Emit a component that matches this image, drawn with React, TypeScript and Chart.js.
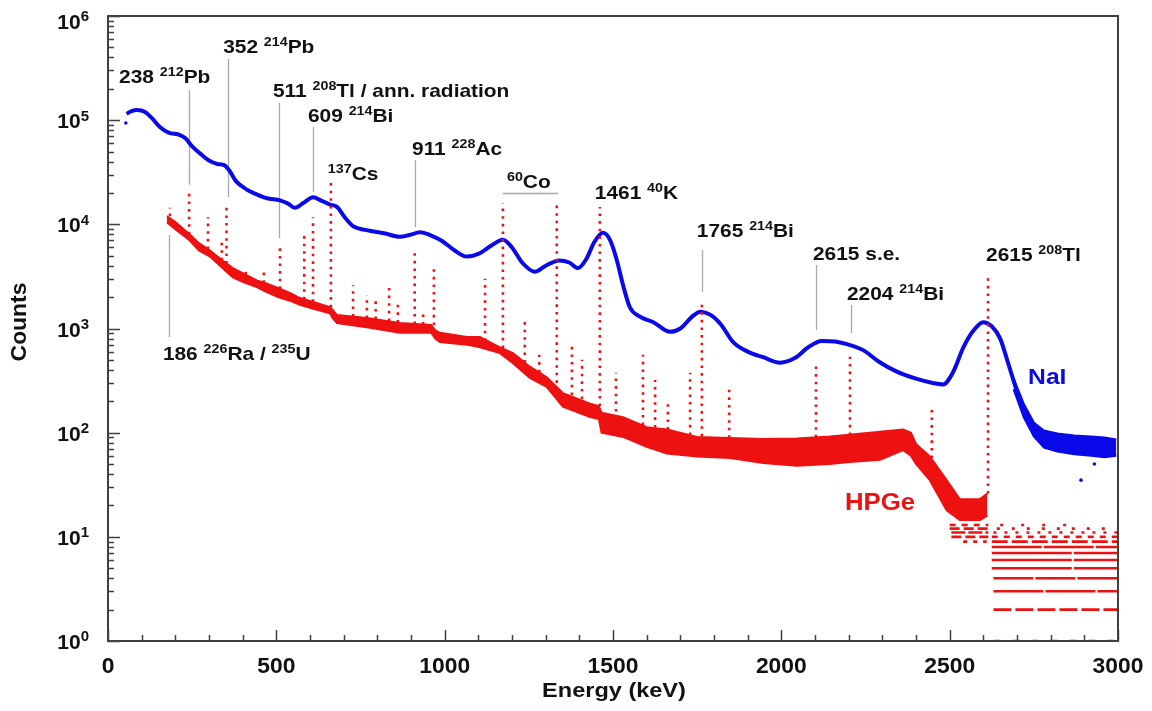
import React, { useEffect, useRef } from 'react';
import { Chart, registerables } from 'chart.js';

Chart.register(...registerables);

// ---------- axis ticks ----------
const xTickValues = [0, 500, 1000, 1500, 2000, 2500, 3000];
const xTickLabels = ['0', '500', '1000', '1500', '2000', '2500', '3000'];
const yTickExponents = [0, 1, 2, 3, 4, 5, 6];

// ---------- NaI spectrum ----------
const naiEnergy = [55, 70, 86, 110, 130, 154, 180, 214, 230, 250, 273, 300, 325, 345, 360, 380, 413, 440, 472, 511, 535, 555, 580, 609, 635, 659, 680, 705, 728, 768, 820, 867, 895, 927, 960, 990, 1030, 1066, 1100, 1140, 1173, 1200, 1230, 1268, 1300, 1340, 1370, 1396, 1420, 1445, 1470, 1490, 1510, 1530, 1550, 1580, 1620, 1669, 1700, 1735, 1760, 1790, 1820, 1857, 1900, 1946, 1996, 2040, 2080, 2120, 2160, 2200, 2243, 2290, 2340, 2400, 2450, 2480, 2510, 2540, 2570, 2600, 2625, 2650, 2675, 2700, 2730, 2760, 2800, 2850, 2900, 2950, 2990];
const naiCounts = [1.15e5, 1.22e5, 1.25e5, 1.2e5, 1.05e5, 8.6e4, 7.6e4, 7.2e4, 6.7e4, 5.6e4, 4.8e4, 4.1e4, 3.8e4, 3.7e4, 3.3e4, 2.6e4, 2.15e4, 1.95e4, 1.78e4, 1.7e4, 1.58e4, 1.44e4, 1.6e4, 1.82e4, 1.68e4, 1.55e4, 1.47e4, 1.15e4, 9.6e3, 8.8e3, 8.2e3, 7.6e3, 7.9e3, 8.4e3, 7.8e3, 7.0e3, 5.6e3, 4.9e3, 5.2e3, 6.3e3, 7.1e3, 6.0e3, 4.3e3, 3.5e3, 4.0e3, 4.5e3, 4.3e3, 3.8e3, 4.6e3, 6.8e3, 8.3e3, 7.2e3, 4.7e3, 2.6e3, 1.6e3, 1.3e3, 1.15e3, 930, 1000, 1300, 1450, 1350, 1100, 740, 600, 530, 470, 520, 660, 760, 750, 700, 620, 480, 390, 330, 300, 290, 380, 650, 950, 1150, 1050, 800, 450, 250, 140, 100, 84, 78, 74, 70, 68];
const naiTailEnergy = [2690, 2720, 2750, 2780, 2820, 2870, 2920, 2960, 2995];
const naiTailHigh = [330, 190, 125, 105, 98, 94, 92, 90, 86];
const naiTailLow = [260, 140, 92, 72, 66, 62, 60, 58, 60];
const naiStrayEnergy = [53, 2890, 2930];
const naiStrayCounts = [9.4e4, 35, 50];

// ---------- HPGe spectrum ----------
const hpgeEnergy = [175, 200, 243, 270, 303, 340, 371, 400, 442, 470, 505, 540, 570, 610, 659, 668, 680, 769, 867, 960, 972, 986, 1066, 1105, 1164, 1203, 1253, 1303, 1351, 1432, 1458, 1466, 1530, 1600, 1660, 1750, 1848, 1946, 2046, 2144, 2194, 2293, 2362, 2385, 2400, 2441, 2491, 2530, 2590, 2612];
const hpgeHigh = [1.2e4, 1.05e4, 8.0e3, 6.6e3, 5.6e3, 4.5e3, 3.8e3, 3.4e3, 2.9e3, 2.7e3, 2.45e3, 2.2e3, 1.96e3, 1.8e3, 1.6e3, 1.5e3, 1.35e3, 1.26e3, 1.13e3, 1.08e3, 960, 910, 830, 830, 660, 580, 430, 340, 240, 190, 180, 155, 141, 113, 107, 91, 89, 87, 88, 92, 95, 102, 107, 100, 78, 59, 35, 23, 23, 26];
const hpgeLow = [1.05e4, 9.0e3, 7.0e3, 5.6e3, 4.9e3, 3.8e3, 3.1e3, 2.8e3, 2.5e3, 2.25e3, 2.0e3, 1.85e3, 1.69e3, 1.55e3, 1.4e3, 1.25e3, 1.13e3, 1.03e3, 910, 910, 800, 740, 700, 660, 580, 465, 335, 275, 178, 141, 135, 100, 91, 73, 63, 59, 57, 51, 48, 50, 52, 55, 68, 60, 50, 35, 18, 14.5, 14.5, 16];

// HPGe full-energy peaks: energy, continuum under it, peak top
const peakEnergy = [184, 241, 297, 338, 352, 409, 463, 511, 583, 609, 662, 728, 769, 795, 835, 861, 911, 936, 968, 1120, 1173, 1238, 1281, 1333, 1378, 1408, 1461, 1509, 1589, 1625, 1663, 1729, 1764, 1845, 2103, 2204, 2447, 2614];
const peakBase = [1.2e4, 8.0e3, 5.8e3, 4.5e3, 4.2e3, 3.3e3, 2.75e3, 2.4e3, 1.9e3, 1.8e3, 1.6e3, 1.3e3, 1.26e3, 1.23e3, 1.18e3, 1.14e3, 1.1e3, 1.09e3, 1.08e3, 760, 650, 470, 380, 300, 230, 210, 180, 135, 118, 112, 107, 95, 92, 89, 90, 95, 57, 26];
const peakTop = [1.44e4, 2.0e4, 1.17e4, 6.8e3, 1.55e4, 3.8e3, 3.5e3, 5.9e3, 8.3e3, 1.17e4, 2.7e4, 2.6e3, 2.1e3, 1.9e3, 2.5e3, 1.8e3, 5.9e3, 1.5e3, 3.9e3, 3.0e3, 1.6e4, 1.26e3, 560, 1.55e4, 720, 500, 1.47e4, 375, 560, 320, 190, 375, 1.7e3, 270, 465, 535, 173, 3.4e3];

// low-count integer rows
const rowLevel = [1, 2, 3, 4, 5, 6, 7, 8, 9, 10, 11, 12, 13, 9, 10, 11, 12, 13];
const rowStart = [2630, 2630, 2630, 2630, 2625, 2625, 2625, 2625, 2625, 2625, 2630, 2640, 2650, 2540, 2505, 2505, 2500, 2500];
const rowEnd = [3000, 3000, 3000, 3000, 3000, 3000, 3000, 3000, 3000, 3000, 3000, 2980, 2900, 2610, 2615, 2615, 2615, 2615];

// ---------- styling (not data) ----------
const rowDash = [[7, 12], [18, 4], [50, 2], [40, 2], [80, 2], [80, 2], [80, 2], [50, 2], [16, 4], [6, 6], [3, 8], [3, 12], [3, 18], [4, 6], [10, 4], [14, 3], [10, 4], [6, 6]];

const FONT = '"Liberation Sans", Arial, Helvetica, sans-serif';
const RED = '#ee1111';
const BLUE = '#0a0ae8';

const labels = [
  { t: '238 ^212^Pb', e: 33, lg: 5.357 },
  { t: '352 ^214^Pb', e: 342, lg: 5.645 },
  { t: '511 ^208^Tl / ann. radiation', e: 490, lg: 5.222 },
  { t: '609 ^214^Bi', e: 594, lg: 4.982 },
  { t: '^137^Cs', e: 653, lg: 4.425 },
  { t: '911 ^228^Ac', e: 903, lg: 4.666 },
  { t: '^60^Co', e: 1185, lg: 4.349 },
  { t: '1461 ^40^K', e: 1446, lg: 4.243 },
  { t: '1765 ^214^Bi', e: 1749, lg: 3.878 },
  { t: '2615 s.e.', e: 2094, lg: 3.657 },
  { t: '2204 ^214^Bi', e: 2195, lg: 3.273 },
  { t: '2615 ^208^Tl', e: 2608, lg: 3.648 },
  { t: '186 ^226^Ra / ^235^U', e: 163, lg: 2.698 },
];
const leaders = [
  { e: 240, a: 5.29, b: 4.38 },
  { e: 356, a: 5.587, b: 4.262 },
  { e: 508, a: 5.165, b: 3.869 },
  { e: 609, a: 4.934, b: 4.31 },
  { e: 912, a: 4.617, b: 3.974 },
  { e: 1764, a: 3.753, b: 3.35 },
  { e: 2103, a: 3.61, b: 2.985 },
  { e: 2207, a: 3.226, b: 2.957 },
  { e: 181, a: 3.898, b: 2.918 },
];
const coBar = { e1: 1173, e2: 1337, lg: 4.30 };

function drawRich(ctx: CanvasRenderingContext2D, str: string, x: number, y: number, size: number, color: string, sx = 1, align = 'left', supScale = 0.68, raise = 0.38) {
  const parts = str.split('^');
  const base = `bold ${size}px ${FONT}`;
  const sup = `bold ${Math.round(size * supScale)}px ${FONT}`;
  let w = 0;
  parts.forEach((p, i) => { ctx.font = i % 2 ? sup : base; w += ctx.measureText(p).width; });
  ctx.save();
  ctx.translate(x, y);
  ctx.scale(sx, 1);
  let cx = align === 'right' ? -w : align === 'center' ? -w / 2 : 0;
  ctx.fillStyle = color;
  ctx.textAlign = 'left';
  ctx.textBaseline = 'alphabetic';
  parts.forEach((p, i) => {
    ctx.font = i % 2 ? sup : base;
    ctx.fillText(p, cx, i % 2 ? -size * raise : 0);
    cx += ctx.measureText(p).width;
  });
  ctx.restore();
}

const decorPlugin = {
  id: 'decor',
  beforeDatasetsDraw(chart: any) {
    const { ctx, scales } = chart;
    const x = scales.x, y = scales.y;
    ctx.save();
    ctx.strokeStyle = '#a8a8a8';
    ctx.lineWidth = 1.3;
    leaders.forEach(l => {
      const px = Math.round(x.getPixelForValue(l.e)) + 0.5;
      ctx.beginPath();
      ctx.moveTo(px, y.getPixelForValue(Math.pow(10, l.a)));
      ctx.lineTo(px, y.getPixelForValue(Math.pow(10, l.b)));
      ctx.stroke();
    });
    const cy = Math.round(y.getPixelForValue(Math.pow(10, coBar.lg))) + 0.5;
    ctx.beginPath();
    ctx.moveTo(x.getPixelForValue(coBar.e1), cy);
    ctx.lineTo(x.getPixelForValue(coBar.e2), cy);
    ctx.stroke();
    ctx.restore();
  },
  afterDraw(chart: any) {
    const { ctx, chartArea: a, scales } = chart;
    const x = scales.x, y = scales.y;
    ctx.save();
    // frame
    ctx.strokeStyle = '#404040';
    ctx.lineWidth = 2;
    ctx.strokeRect(a.left, a.top, a.right - a.left, a.bottom - a.top);
    // x ticks
    ctx.lineWidth = 1.5;
    ctx.beginPath();
    for (let v = 0; v <= 3000; v += 100) {
      const px = Math.round(x.getPixelForValue(v)) + 0.5;
      const len = v % 500 === 0 ? 11 : 6;
      ctx.moveTo(px, a.bottom);
      ctx.lineTo(px, a.bottom - len);
    }
    // y ticks
    yTickExponents.forEach(ex => {
      const py = Math.round(y.getPixelForValue(Math.pow(10, ex))) + 0.5;
      ctx.moveTo(a.left, py);
      ctx.lineTo(a.left + 12, py);
      if (ex < 6) {
        for (let m = 2; m <= 9; m++) {
          const pm = Math.round(y.getPixelForValue(m * Math.pow(10, ex))) + 0.5;
          ctx.moveTo(a.left, pm);
          ctx.lineTo(a.left + 6, pm);
        }
      }
    });
    ctx.stroke();
    // tick labels
    xTickValues.forEach((v, i) => {
      drawRich(ctx, xTickLabels[i], x.getPixelForValue(v), 673, 22, '#111', 1.04, 'center');
    });
    yTickExponents.forEach(ex => {
      const py = y.getPixelForValue(Math.pow(10, ex));
      drawRich(ctx, '10^' + ex + '^', 89, Math.max(py + 8, 29), 21, '#111', 1, 'right', 0.7, 0.36);
    });
    // axis titles
    drawRich(ctx, 'Energy (keV)', 614, 697, 21, '#111', 1.12, 'center');
    ctx.save();
    ctx.translate(26, 322);
    ctx.rotate(-Math.PI / 2);
    drawRich(ctx, 'Counts', 0, 0, 22, '#111', 1.04, 'center');
    ctx.restore();
    // peak labels
    labels.forEach(l => {
      drawRich(ctx, l.t, x.getPixelForValue(l.e), y.getPixelForValue(Math.pow(10, l.lg)), 19, '#111', 1.1, 'left', 0.7, 0.38);
    });
    drawRich(ctx, 'NaI', x.getPixelForValue(2733), y.getPixelForValue(Math.pow(10, 2.467)), 22, BLUE, 1.12);
    drawRich(ctx, 'HPGe', x.getPixelForValue(2189), y.getPixelForValue(Math.pow(10, 1.258)), 23, RED, 1.12);
    ctx.restore();
  },
};

const pts = (xs: number[], ys: number[]) => xs.map((v, i) => ({ x: v, y: ys[i] }));

export default function App() {
  const ref = useRef<HTMLCanvasElement | null>(null);
  useEffect(() => {
    if (!ref.current) return;
    const datasets: any[] = [];
    // HPGe continuum band
    datasets.push({ data: pts(hpgeEnergy, hpgeLow), showLine: true, borderColor: RED, borderWidth: 2, pointRadius: 0, fill: false, order: 1 });
    datasets.push({ data: pts(hpgeEnergy, hpgeHigh), showLine: true, borderColor: RED, borderWidth: 2, pointRadius: 0, fill: '-1', backgroundColor: RED, order: 1 });
    // NaI tail band
    datasets.push({ data: pts(naiTailEnergy, naiTailLow), showLine: true, borderColor: BLUE, borderWidth: 2, pointRadius: 0, fill: false, order: 2 });
    datasets.push({ data: pts(naiTailEnergy, naiTailHigh), showLine: true, borderColor: BLUE, borderWidth: 2, pointRadius: 0, fill: '-1', backgroundColor: BLUE, order: 2 });
    // NaI main curve
    datasets.push({ data: pts(naiEnergy, naiCounts), showLine: true, borderColor: BLUE, borderWidth: 4, pointRadius: 0, fill: false, cubicInterpolationMode: 'monotone', order: 2 });
    datasets.push({ data: pts(naiStrayEnergy, naiStrayCounts), showLine: false, pointRadius: 1.8, pointBackgroundColor: BLUE, pointBorderWidth: 0, order: 2 });
    // HPGe peaks
    peakEnergy.forEach((e, i) => {
      datasets.push({ data: [{ x: e, y: peakBase[i] }, { x: e, y: peakTop[i] }], showLine: true, borderColor: RED, borderWidth: 2.6, borderDash: [2.6, 5], pointRadius: 0, fill: false, order: 1 });
    });
    // HPGe integer rows
    rowLevel.forEach((lv, i) => {
      datasets.push({ data: [{ x: rowStart[i], y: lv }, { x: rowEnd[i], y: lv }], showLine: true, borderColor: RED, borderWidth: 2.6, borderDash: rowDash[i], pointRadius: 0, fill: false, order: 1 });
    });
    const chart = new Chart(ref.current, {
      type: 'scatter',
      data: { datasets },
      options: {
        animation: false,
        responsive: false,
        maintainAspectRatio: false,
        layout: { padding: { left: 108, right: 34, top: 16, bottom: 70 } },
        plugins: { legend: { display: false }, tooltip: { enabled: false } },
        scales: {
          x: { type: 'linear', min: 0, max: 3000, display: false },
          y: { type: 'logarithmic', min: 1, max: 1e6, display: false },
        },
      },
      plugins: [decorPlugin],
    } as any);
    return () => chart.destroy();
  }, []);
  return (
    <div style={{ position: 'absolute', left: 0, top: 0, width: 1152, height: 711, background: '#fff' }}>
      <canvas ref={ref} width={1152} height={711} style={{ width: 1152, height: 711 }} />
    </div>
  );
}
